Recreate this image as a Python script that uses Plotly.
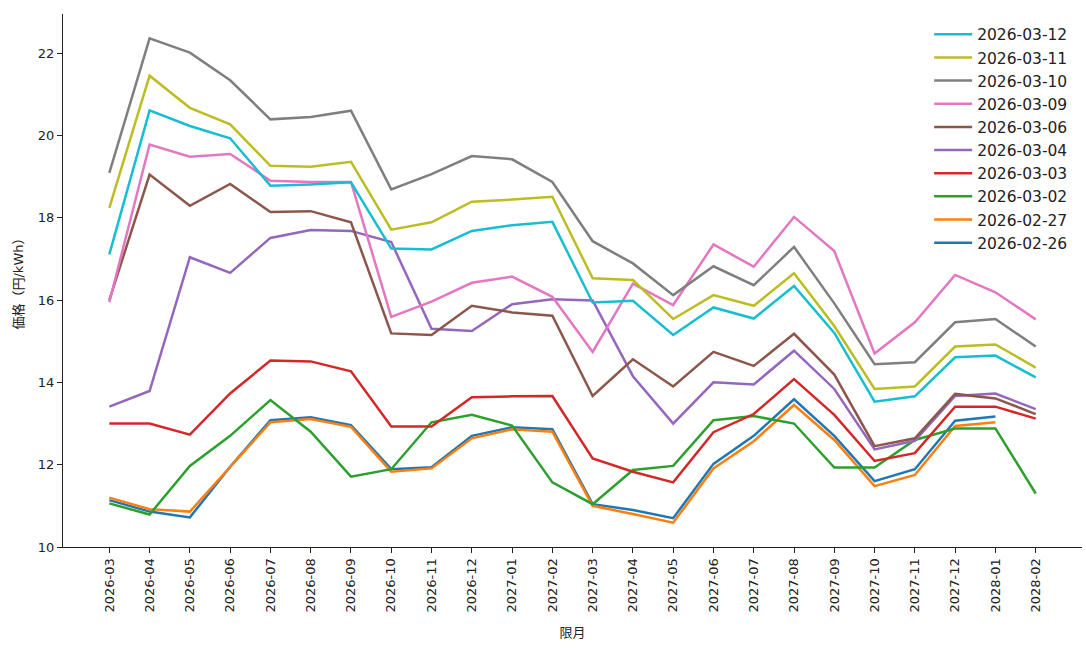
import plotly.graph_objects as go

months = ["2026-03", "2026-04", "2026-05", "2026-06", "2026-07", "2026-08", "2026-09", "2026-10",
          "2026-11", "2026-12", "2027-01", "2027-02", "2027-03", "2027-04", "2027-05", "2027-06",
          "2027-07", "2027-08", "2027-09", "2027-10", "2027-11", "2027-12", "2028-01", "2028-02"]

s_0226 = [11.14, 10.86, 10.72, 11.95, 13.08, 13.15, 12.96, 11.89, 11.94, 12.70, 12.91, 12.86,
          11.04, 10.90, 10.70, 12.02, 12.70, 13.59, 12.70, 11.60, 11.89, 13.07, 13.17, None]
s_0227 = [11.20, 10.92, 10.86, 11.95, 13.03, 13.11, 12.92, 11.83, 11.91, 12.64, 12.86, 12.80,
          11.00, 10.80, 10.59, 11.91, 12.57, 13.45, 12.60, 11.48, 11.75, 12.94, 13.03, None]
s_0302 = [11.06, 10.79, 11.97, 12.70, 13.57, 12.80, 11.71, 11.89, 13.03, 13.21, 12.95, 11.57,
          11.04, 11.87, 11.97, 13.08, 13.18, 13.00, 11.93, 11.93, 12.60, 12.88, 12.88, 11.30]
s_0303 = [13.00, 13.00, 12.73, 13.73, 14.53, 14.51, 14.27, 12.93, 12.93, 13.64, 13.66, 13.67,
          12.15, 11.83, 11.57, 12.79, 13.23, 14.08, 13.21, 12.09, 12.28, 13.41, 13.41, 13.12]
s_0304 = [13.41, 13.79, 17.04, 16.66, 17.51, 17.70, 17.68, 17.41, 15.30, 15.25, 15.90, 16.02,
          15.99, 14.15, 13.00, 14.00, 13.95, 14.77, 13.84, 12.37, 12.58, 13.67, 13.73, 13.35]
s_0306 = [16.00, 19.05, 18.29, 18.82, 18.14, 18.16, 17.89, 15.19, 15.15, 15.86, 15.70, 15.62,
          13.67, 14.56, 13.90, 14.74, 14.40, 15.18, 14.19, 12.45, 12.64, 13.72, 13.61, 13.23]
s_0309 = [15.95, 19.78, 19.48, 19.55, 18.90, 18.87, 18.87, 15.59, 15.96, 16.42, 16.57, 16.08,
          14.74, 16.40, 15.88, 17.35, 16.81, 18.02, 17.19, 14.70, 15.46, 16.61, 16.19, 15.53]
s_0310 = [19.09, 22.36, 22.01, 21.34, 20.39, 20.45, 20.60, 18.69, 19.06, 19.50, 19.42, 18.87,
          17.43, 16.89, 16.12, 16.82, 16.36, 17.29, 15.92, 14.44, 14.49, 15.46, 15.54, 14.87]
s_0311 = [18.24, 21.45, 20.67, 20.27, 19.26, 19.24, 19.36, 17.71, 17.89, 18.39, 18.44, 18.51,
          16.53, 16.49, 15.54, 16.12, 15.86, 16.65, 15.37, 13.84, 13.90, 14.87, 14.92, 14.36]
s_0312 = [17.11, 20.61, 20.23, 19.93, 18.78, 18.81, 18.86, 17.25, 17.23, 17.68, 17.82, 17.90,
          15.94, 15.98, 15.15, 15.82, 15.55, 16.34, 15.20, 13.53, 13.66, 14.61, 14.65, 14.12]

series_names = ["2026-02-26", "2026-02-27", "2026-03-02", "2026-03-03", "2026-03-04",
                "2026-03-06", "2026-03-09", "2026-03-10", "2026-03-11", "2026-03-12"]
series_values = [s_0226, s_0227, s_0302, s_0303, s_0304, s_0306, s_0309, s_0310, s_0311, s_0312]
colors = ["#1f77b4", "#ff7f0e", "#2ca02c", "#d62728", "#9467bd",
          "#8c564b", "#e377c2", "#7f7f7f", "#bcbd22", "#17becf"]

y_ticks = [10, 12, 14, 16, 18, 20, 22]

FONT = "DejaVu Sans, Noto Sans CJK JP, sans-serif"

fig = go.Figure()
for name, vals, col in zip(series_names, series_values, colors):
    fig.add_trace(go.Scatter(x=months, y=vals, mode="lines", name=name,
                             line=dict(color=col, width=2.5), connectgaps=False))

fig.update_layout(
    width=1086, height=652,
    margin=dict(l=63, r=4, t=14, b=105),
    paper_bgcolor="white", plot_bgcolor="white",
    font=dict(family=FONT, size=13, color="#222222"),
    showlegend=True,
    legend=dict(traceorder="reversed", x=0.850, y=0.993, xanchor="left", yanchor="top",
                itemwidth=38,
                bgcolor="rgba(0,0,0,0)", font=dict(size=15.5, color="#222222")),
    xaxis=dict(type="category", range=[-1.15, 24.15], tickangle=-90, automargin=False,
               showline=True, linecolor="#222222", linewidth=1,
               ticks="outside", ticklen=5, tickcolor="#222222", showgrid=False, zeroline=False,
               title=dict(text="限月", font=dict(size=13), standoff=16)),
    yaxis=dict(range=[10, 22.95], tickvals=y_ticks, automargin=False,
               showline=True, linecolor="#222222", linewidth=1,
               ticks="outside", ticklen=5, tickcolor="#222222", showgrid=False, zeroline=False,
               title=dict(text="価格（円/kWh）", font=dict(size=13), standoff=11)),
)

fig.write_html("out.html", config={"displayModeBar": False},
               post_script="document.body.style.margin='0';document.body.style.overflow='hidden';")
